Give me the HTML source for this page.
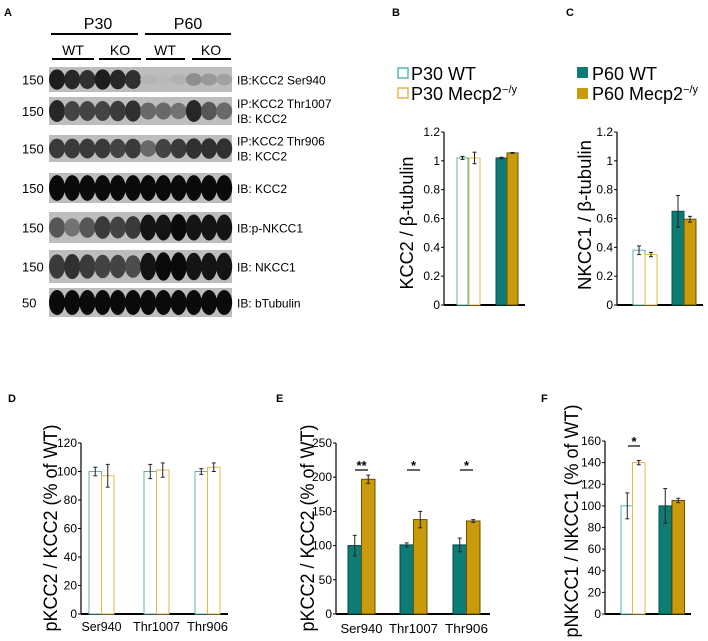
<!DOCTYPE html>
<html><head><meta charset="utf-8"><style>
body{margin:0;background:#fff;}
svg{display:block;font-family:"Liberation Sans",sans-serif;}
</style></head><body>
<svg id="fig" width="708" height="641" viewBox="0 0 708 641">
<g id="panelA">
<text x="4" y="16" font-size="11" font-weight="bold">A</text>
<text x="98" y="29" font-size="16" text-anchor="middle">P30</text>
<text x="188" y="29" font-size="16" text-anchor="middle">P60</text>
<line x1="51" y1="34" x2="138" y2="34" stroke="#000" stroke-width="2"/>
<line x1="145" y1="34" x2="231" y2="34" stroke="#000" stroke-width="2"/>
<text x="73" y="55" font-size="14" text-anchor="middle">WT</text>
<text x="120" y="55" font-size="14" text-anchor="middle">KO</text>
<text x="165" y="55" font-size="14" text-anchor="middle">WT</text>
<text x="211" y="55" font-size="14" text-anchor="middle">KO</text>
<line x1="52" y1="59" x2="94" y2="59" stroke="#000" stroke-width="2"/>
<line x1="99" y1="59" x2="141" y2="59" stroke="#000" stroke-width="2"/>
<line x1="146" y1="59" x2="185" y2="59" stroke="#000" stroke-width="2"/>
<line x1="192" y1="59" x2="231" y2="59" stroke="#000" stroke-width="2"/>
</g>
<g id="charts"></g>
</svg>
<script>
const NS="http://www.w3.org/2000/svg";
function mk(tag,attrs,parent,txt){const e=document.createElementNS(NS,tag);for(const k in attrs)e.setAttribute(k,attrs[k]);if(txt!==undefined)e.textContent=txt;parent.appendChild(e);return e;}
const A=document.getElementById('panelA');
const blotLabels1=["IB:KCC2 Ser940","IP:KCC2 Thr1007","IP:KCC2 Thr906","IB: KCC2","IB:p-NKCC1","IB: NKCC1","IB: bTubulin"];
const blotLabels2=["","IB: KCC2","IB: KCC2","","","",""];
const blotMW=["150","150","150","150","150","150","50"];
const blotIntensity=[
 [0.9,0.85,0.8,0.9,0.85,0.8,0.1,0.08,0.12,0.3,0.25,0.2],
 [0.85,0.7,0.7,0.7,0.75,0.8,0.5,0.5,0.45,0.85,0.6,0.5],
 [0.75,0.75,0.75,0.75,0.7,0.75,0.5,0.7,0.75,0.8,0.8,0.8],
 [1,1,1,1,1,1,1,1,1,1,1,1],
 [0.6,0.45,0.6,0.75,0.7,0.75,0.95,0.95,1,0.95,0.95,0.95],
 [0.75,0.8,0.75,0.7,0.7,0.65,0.95,1,1,0.95,0.95,0.95],
 [1,1,1,1,1,1,1,1,1,1,1,1]];
const blotTop=[67,97,135,173,212,250,288],blotBot=[92,125,162,203,243,283,317];
blotIntensity.forEach((row,i)=>{
 const g=mk('g',{},A);
 
 
 const h=blotBot[i]-blotTop[i];
 mk('rect',{x:49,y:blotTop[i],width:183,height:h,fill:'#bdbdbd'},g);
 row.forEach((v,j)=>{
  const cx=57+j*15.2, cy=blotTop[i]+h/2;
  const ry=h*(0.18+0.25*v);
  const c=Math.round(200-190*v);
  mk('ellipse',{cx:cx,cy:cy,rx:8,ry:ry,fill:`rgb(${c},${c},${c})`},g);
 });
 const mw=mk('text',{x:22,y:blotTop[i]+h/2+5,'font-size':13},A,blotMW[i]);
 
 
 if(blotLabels2[i]){
  const t1=mk('text',{x:237,y:blotTop[i]+h/2-3,'font-size':12},A,blotLabels1[i]);
  
  const t2=mk('text',{x:237,y:blotTop[i]+h/2+12,'font-size':12},A,blotLabels2[i]);
  
 } else {
  const t1=mk('text',{x:237,y:blotTop[i]+h/2+5,'font-size':12},A,blotLabels1[i]);
  
 }
});

const bValues=[1.02,1.02,1.02,1.055];
const bErrors=[0.01,0.04,0.005,0.003];
const cValues=[0.38,0.35,0.65,0.595];
const cErrors=[0.03,0.015,0.11,0.02];
const yTicksBC=[0,0.2,0.4,0.6,0.8,1,1.2];
const yTickLabelsBC=["0","0.2","0.4","0.6","0.8","1","1.2"];
const dCategories=["Ser940","Thr1007","Thr906"];
const dWT=[100,100,100];const dKO=[97,101,103];
const dWTerr=[3,5,2];const dKOerr=[8,5,3];
const yTicksD=[0,20,40,60,80,100,120];
const eWT=[100,101,101];const eKO=[197,138,136];
const eWTerr=[15,3,10];const eKOerr=[6,12,2];
const eStars=["**","*","*"];
const yTicksE=[0,50,100,150,200,250];
const fValues=[100,140,100,105];
const fErrors=[12,2,16,2];
const yTicksF=[0,20,40,60,80,100,120,140,160];

const TEAL='#0e7b74',GOLD='#c99a0c',TEAL_L='#5ab5b2',GOLD_L='#e2b84a';
const C=document.getElementById('charts');

function axes(g,x0,x1,y0,yTop,maxV,ticks,labels,fs){
 const ys=v=>y0-(v/maxV)*(y0-yTop);
 mk('line',{x1:x0,y1:yTop,x2:x0,y2:y0,stroke:'#000','stroke-width':1.2},g);
 mk('line',{x1:x0,y1:y0,x2:x1,y2:y0,stroke:'#000','stroke-width':2},g);
 ticks.forEach((t,i)=>{
  mk('line',{x1:x0-3,y1:ys(t),x2:x0,y2:ys(t),stroke:'#000'},g);
  const tl=mk('text',{x:x0-4,y:ys(t)+4,'font-size':fs,'text-anchor':'end'},g,labels?labels[i]:String(t));
  
  
 });
 return ys;
}
function bar(g,x,w,v,err,ys,fill,stroke,name){
 const r=mk('rect',{x:x,y:ys(v),width:w,height:ys(0)-ys(v),fill:fill,stroke:stroke,'stroke-width':1},g);
 
 
 const cx=x+w/2;
 mk('line',{x1:cx,y1:ys(v+err),x2:cx,y2:ys(v-err),stroke:'#222','stroke-width':1},g);
 mk('line',{x1:cx-2,y1:ys(v+err),x2:cx+2,y2:ys(v+err),stroke:'#222'},g);
 mk('line',{x1:cx-2,y1:ys(v-err),x2:cx+2,y2:ys(v-err),stroke:'#222'},g);
}
function ytitle(g,x,y,txt,fs,len,name){
 const t=mk('text',{x:x,y:y,'font-size':fs,'text-anchor':'middle',textLength:len,lengthAdjust:'spacingAndGlyphs',transform:`rotate(-90 ${x} ${y})`},g,txt);
 
 
}
function label(g,x,y,t,name){const e=mk('text',{x:x,y:y,'font-size':11,'font-weight':'bold'},g,t);}
function xlabel(g,x,y,t,len,fs){const e=mk('text',{x:x,y:y,'font-size':fs,'text-anchor':'middle',textLength:len,lengthAdjust:'spacingAndGlyphs'},g,t);}

// Panel B
const gB=mk('g',{},C);
label(gB,392,16,'B','panel-label-b');
let ysB=axes(gB,444,525,305,132,1.2,yTicksBC,yTickLabelsBC,12);
const bX=[457,469,496,507];
const bFill=['#fff','#fff',TEAL,GOLD],bStroke=[TEAL_L,GOLD_L,'#054','#6a5000'];
bValues.forEach((v,i)=>bar(gB,bX[i],11,v,bErrors[i],ysB,bFill[i],bStroke[i],'bar-b-'+i));
ytitle(gB,413,223,'KCC2 / β-tubulin',18,133,'y-axis-title-b');
const lgB=mk('g',{},gB);
mk('rect',{x:398,y:68,width:10,height:10,fill:'#fff',stroke:TEAL_L,'stroke-width':1.5},lgB);
mk('text',{x:411,y:80,'font-size':18},lgB,'P30 WT');
mk('rect',{x:398,y:88,width:10,height:10,fill:'#fff',stroke:GOLD_L,'stroke-width':1.5},lgB);
const lt=mk('text',{x:411,y:100,'font-size':18},lgB);lt.innerHTML='P30 Mecp2<tspan font-size="11" dy="-7">−/y</tspan>';

// Panel C
const gC=mk('g',{},C);
label(gC,566,16,'C','panel-label-c');
let ysC=axes(gC,617,703,305,132,1.2,yTicksBC,yTickLabelsBC,12);
const cX=[633,645,672,684];
cValues.forEach((v,i)=>bar(gC,cX[i],12,v,cErrors[i],ysC,bFill[i],bStroke[i],'bar-c-'+i));
ytitle(gC,591,215,'NKCC1 / β-tubulin',18,150,'y-axis-title-c');
const lgC=mk('g',{},gC);
mk('rect',{x:577,y:67,width:11,height:11,fill:TEAL},lgC);
mk('text',{x:592,y:80,'font-size':18},lgC,'P60 WT');
mk('rect',{x:577,y:88,width:11,height:11,fill:GOLD},lgC);
const lt2=mk('text',{x:592,y:100,'font-size':18},lgC);lt2.innerHTML='P60 Mecp2<tspan font-size="11" dy="-7">−/y</tspan>';

// Panel D
const gD=mk('g',{},C);
label(gD,8,402,'D','panel-label-d');
let ysD=axes(gD,81,228,614,443,120,yTicksD,null,12);
const dX=[89,144,195];
const catLen=[40,47,41];
dCategories.forEach((c,i)=>{
 bar(gD,dX[i],12.5,dWT[i],dWTerr[i],ysD,'#fff',TEAL_L,'bar-d-wt-'+c);
 bar(gD,dX[i]+12.5,12.5,dKO[i],dKOerr[i],ysD,'#fff',GOLD_L,'bar-d-ko-'+c);
 xlabel(gD,dX[i]+12.5,631,c,catLen[i],13);
});
ytitle(gD,57,528,'pKCC2 / KCC2 (% of WT)',19,207,'y-axis-title-d');

// Panel E
const gE=mk('g',{},C);
label(gE,276,402,'E','panel-label-e');
let ysE=axes(gE,336,490,614,443,250,yTicksE,null,12);
const eX=[348,400,453];
dCategories.forEach((c,i)=>{
 bar(gE,eX[i],13.5,eWT[i],eWTerr[i],ysE,TEAL,'#044','bar-e-wt-'+c);
 bar(gE,eX[i]+13.5,13.5,eKO[i],eKOerr[i],ysE,GOLD,'#6a5000','bar-e-ko-'+c);
 xlabel(gE,eX[i]+13.5,633,c,catLen[i]+2,13);
 const s=mk('text',{x:eX[i]+13.5,y:470,'font-size':13,'text-anchor':'middle','font-weight':'bold'},gE,eStars[i]);
 
 mk('line',{x1:eX[i]+7,y1:470,x2:eX[i]+20,y2:470,stroke:'#000','stroke-width':1.2},gE);
});
ytitle(gE,314,528,'pKCC2 / KCC2 (% of WT)',19,207,'y-axis-title-e');

// Panel F
const gF=mk('g',{},C);
label(gF,541,402,'F','panel-label-f');
let ysF=axes(gF,605,691,614,441,160,yTicksF,null,12);
const fX=[621,632.5,659,672];
fValues.forEach((v,i)=>bar(gF,fX[i],12.5,v,fErrors[i],ysF,bFill[i],bStroke[i],'bar-f-'+i));
const sF=mk('text',{x:634,y:446,'font-size':13,'text-anchor':'middle','font-weight':'bold'},gF,'*');

mk('line',{x1:628,y1:446,x2:640,y2:446,stroke:'#000','stroke-width':1.2},gF);
ytitle(gF,578,521,'pNKCC1 / NKCC1 (% of WT)',19,233,'y-axis-title-f');
</script>
</body></html>
